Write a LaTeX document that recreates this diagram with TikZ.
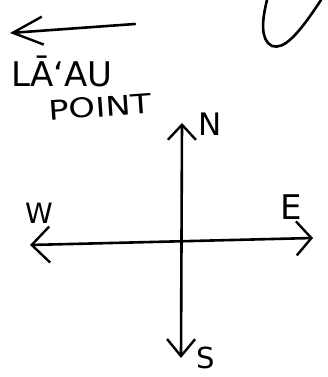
\documentclass[tikz,border=0pt]{standalone}
\usepackage{fontspec}
\setmainfont{DejaVu Sans}
\usetikzlibrary{arrows.meta,positioning}

\begin{document}
\begin{tikzpicture}[x=1pt,y=-1pt,
    pen/.style={line width=2.6pt, line cap=round, line join=round},
    hand/.style={inner sep=0pt, font=\fontsize{#1}{#1}\selectfont}]
  \useasboundingbox (0,0) rectangle (328,377);
  % Pointer to the point
  \coordinate (tail) at (135,24);
  \coordinate (tip) at (10,33);
  \draw[pen, -{Straight Barb[length=30pt, width=28pt, line width=2.4pt]}] (tail) -- (tip);
  % Place name
  \node[hand=34] (lau) at (62,71) {LĀʻAU};
  \node[hand=27, rotate=4, xscale=1.25] (point) at (100,107) {POINT};
  % Coast line at top right
  \draw[pen] (267,0) .. controls (262,20) and (260,40) .. (272,46)
    .. controls (284,50) and (298,35) .. (321,0);
  % Compass
  \coordinate (N) at (182,123);
  \coordinate (S) at (181,358);
  \coordinate (W) at (30,245);
  \coordinate (E) at (313,238);
  \draw[pen, {Straight Barb[length=17pt, width=28pt, line width=2.4pt]}-{Straight Barb[length=15pt, width=28pt, line width=2.4pt]}] (S) -- (N);
  \draw[pen, {Straight Barb[length=18pt, width=36pt, line width=2.4pt]}-{Straight Barb[length=15pt, width=34pt, line width=2.4pt]}] (W) -- (E);
  % Labels
  \node[hand=31] (n) at (210,124) {N};
  \node[hand=29] (s) at (206,358) {S};
  \node[hand=28] (w) at (39,213) {W};
  \node[hand=34] (e) at (291,207) {E};
\end{tikzpicture}
\end{document}
